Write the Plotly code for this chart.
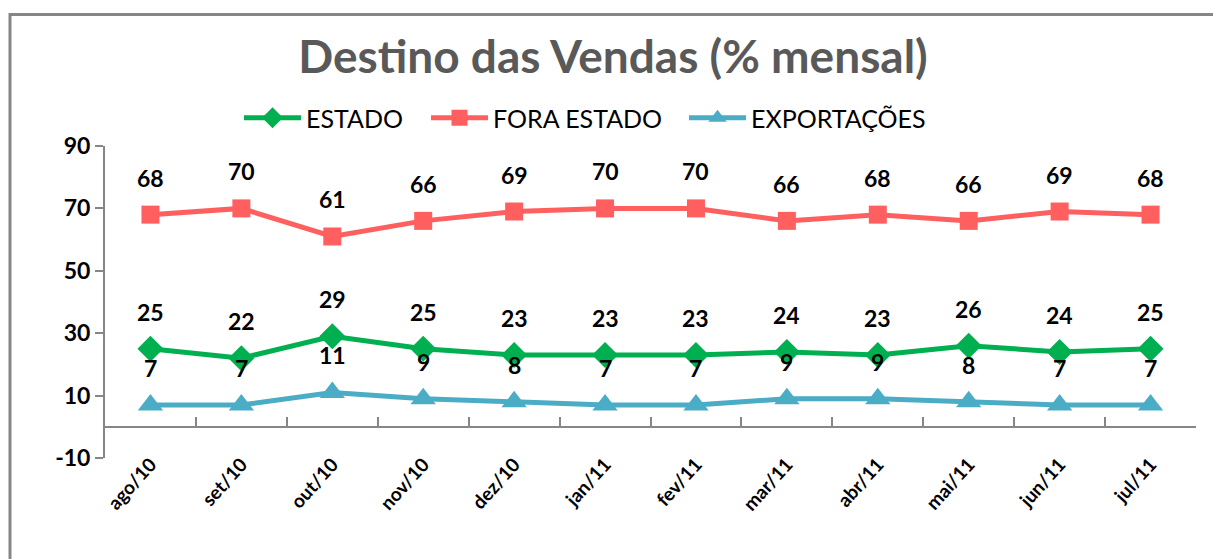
import plotly.graph_objects as go

categories = ["ago/10", "set/10", "out/10", "nov/10", "dez/10", "jan/11",
              "fev/11", "mar/11", "abr/11", "mai/11", "jun/11", "jul/11"]
estado = [25, 22, 29, 25, 23, 23, 23, 24, 23, 26, 24, 25]
fora_estado = [68, 70, 61, 66, 69, 70, 70, 66, 68, 66, 69, 68]
exportacoes = [7, 7, 11, 9, 8, 7, 7, 9, 9, 8, 7, 7]
y_ticks = [-10, 10, 30, 50, 70, 90]

series = [
    ("ESTADO", estado, "#00B050", "diamond", 20, "legend", 245),
    ("FORA ESTADO", fora_estado, "#FF5F5F", "square", 18, "legend2", 432),
    ("EXPORTAÇÕES", exportacoes, "#4BACC6", "triangle-up", 22, "legend3", 690),
]

FONT = "Lato"
L, T, PW, PH = 105, 146, 1091.0, 312.0

fig = go.Figure()
annotations = []
legends = {}
for name, vals, color, sym, size, leg, lx in series:
    fig.add_trace(go.Scatter(
        x=categories, y=vals, name=name, mode="lines+markers",
        line=dict(color=color, width=5),
        marker=dict(symbol=sym, size=size, color=color),
        legend=leg,
    ))
    for c, v in zip(categories, vals):
        annotations.append(dict(
            x=c, y=v, text=str(v), showarrow=False, yshift=37,
            font=dict(family=FONT, size=23, color="black", weight="bold"),
        ))
    legends[leg] = dict(
        orientation="h", x=(lx - L - 6) / PW, xanchor="left",
        y=(T + PH - 118) / PH, yanchor="middle",
        font=dict(family=FONT, size=25, color="black"),
        itemwidth=57, bgcolor="rgba(0,0,0,0)",
    )

ymin, ymax = -10, 90
zero_pos = (0 - ymin) / (ymax - ymin)

x_left = (10 - L) / PW
x_right = (1240 - L) / PW
y_top = (T + PH - 14.5) / PH
y_bot = (T + PH - 600) / PH

fig.update_layout(
    width=1213, height=559,
    margin=dict(l=L, r=1213 - L - int(PW), t=T, b=559 - T - int(PH), autoexpand=False),
    paper_bgcolor="white", plot_bgcolor="white",
    title=dict(
        text="Destino das Vendas (% mensal)",
        x=(613 - L) / PW, xref="paper", xanchor="center",
        y=1 - 57 / 559, yref="container", yanchor="middle",
        font=dict(family=FONT, size=46, color="#595959", weight="bold"),
    ),
    xaxis=dict(
        type="category", range=[-0.5, 11.5],
        anchor="free", position=zero_pos,
        showline=True, linecolor="#868686", linewidth=2,
        ticks="inside", tickson="boundaries", ticklen=9,
        tickcolor="#868686", tickwidth=2,
        tickangle=-48, ticklabelstandoff=18,
        tickfont=dict(family=FONT, size=19, color="black", weight="bold"),
        showgrid=False, zeroline=False,
    ),
    yaxis=dict(
        range=[ymin, ymax], tickvals=y_ticks,
        ticktext=[str(v) for v in y_ticks],
        showline=True, linecolor="#868686", linewidth=2,
        ticks="outside", ticklen=8, tickcolor="#868686", tickwidth=2,
        tickfont=dict(family=FONT, size=23, color="black", weight="bold"),
        showgrid=False, zeroline=False,
    ),
    annotations=annotations,
    shapes=[dict(
        type="rect", xref="paper", yref="paper",
        x0=x_left, x1=x_right, y0=y_bot, y1=y_top,
        line=dict(color="#868686", width=3), fillcolor="rgba(0,0,0,0)",
        layer="below",
    )],
    showlegend=True,
    **legends,
)

fig.write_html("out.html", config={"displayModeBar": False},
               post_script="document.body.style.margin='0';")
